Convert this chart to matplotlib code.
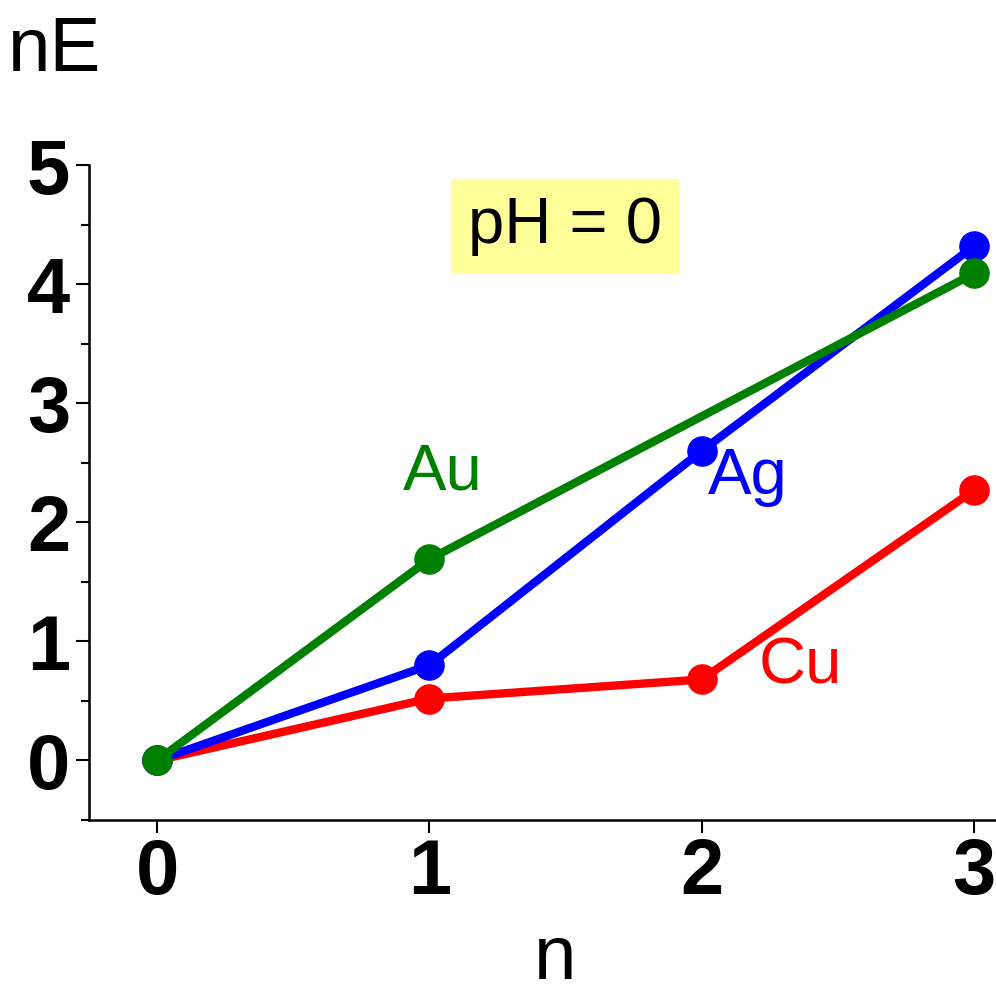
import numpy as np
import matplotlib
matplotlib.use('Agg')
from matplotlib import pyplot as plt

plt.rcParams['font.family'] = ['Liberation Sans', 'DejaVu Sans']

n = [0, 1, 2, 3]
cu = [0, 0.52, 0.68, 2.27]   # red
ag = [0, 0.80, 2.60, 4.32]   # blue
n_au = [0, 1, 3]
au = [0, 1.69, 4.09]         # green

fig = plt.figure(figsize=(9.96, 9.96), dpi=100)
ax = fig.add_axes([89/996, 1-820/996, 1-89/996, (820-165)/996])

ax.plot(n, cu, '-o', color='red', lw=6, ms=21, zorder=3)
ax.plot(n, ag, '-o', color='blue', lw=6, ms=21, zorder=4)
ax.plot(n_au, au, '-o', color='green', lw=6, ms=21, zorder=5)

ax.set_xlim(-0.25, 3.08)
ax.set_ylim(-0.5, 5)
ax.set_xticks([0, 1, 2, 3])
ax.set_yticks([0, 1, 2, 3, 4, 5])
ax.set_yticks(np.arange(-0.5, 5, 1), minor=True)
for s in ['top', 'right']:
    ax.spines[s].set_visible(False)
for s in ['left', 'bottom']:
    ax.spines[s].set_linewidth(1.8)
ax.tick_params(axis='both', which='major', length=9.5, width=1.5, labelsize=56)
ax.tick_params(axis='y', which='major', pad=4)
ax.tick_params(axis='x', which='major', pad=3)
ax.tick_params(axis='y', which='minor', length=5.5, width=1.5)
for lab in ax.get_xticklabels() + ax.get_yticklabels():
    lab.set_fontweight('bold')

ax.text(1.05, 2.42, 'Au', color='green', fontsize=47, ha='center', va='center')
ax.text(2.17, 2.38, 'Ag', color='blue', fontsize=47, ha='center', va='center')
ax.text(2.36, 0.79, 'Cu', color='red', fontsize=47, ha='center', va='center')
ax.text(1.498, 4.49, 'pH = 0', fontsize=47, ha='center', va='center',
        bbox=dict(boxstyle='square,pad=0.26', fc='#ffff99', ec='none'))

fig.text(8/996, 1-71/996, 'nE', fontsize=55, ha='left', va='baseline')
fig.text(555/996, 1/996, 'n', fontsize=55, ha='center', va='bottom')

fig.savefig('out.png', dpi=100)
